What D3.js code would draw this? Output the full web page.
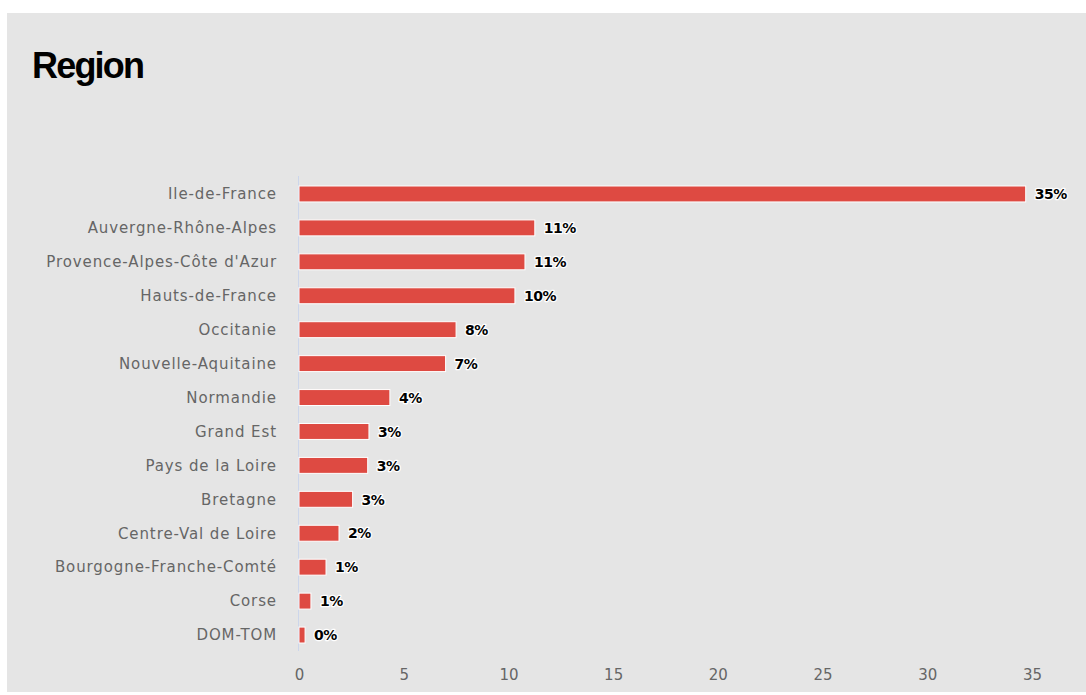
<!DOCTYPE html>
<html>
<head>
<meta charset="utf-8">
<script src="https://cdn.jsdelivr.net/npm/d3@7"></script>
<style>
  html, body { margin: 0; padding: 0; background: #ffffff; }
  svg { display: block; }
</style>
</head>
<body>
<svg id="chart" width="1086" height="695"></svg>
<script>
const categories = [
  "Ile-de-France", "Auvergne-Rhône-Alpes", "Provence-Alpes-Côte d'Azur",
  "Hauts-de-France", "Occitanie", "Nouvelle-Aquitaine", "Normandie",
  "Grand Est", "Pays de la Loire", "Bretagne", "Centre-Val de Loire",
  "Bourgogne-Franche-Comté", "Corse", "DOM-TOM"
];
const values = [34.7, 11.26, 10.79, 10.31, 7.5, 7.0, 4.34, 3.34, 3.28, 2.56, 1.91, 1.29, 0.57, 0.29];
const tickValues = [0, 5, 10, 15, 20, 25, 30, 35];
const chartTitle = "Region";

const svg = d3.select("#chart");
const W = 1086, H = 695;

// background panel
svg.append("rect").attr("x", 7).attr("y", 13).attr("width", W - 7).attr("height", 679).attr("fill", "#e5e5e5");

// title
svg.append("text")
  .attr("x", 32).attr("y", 78)
  .attr("font-family", "'Liberation Sans', Arial, sans-serif")
  .attr("font-weight", "bold")
  .attr("font-size", 36)
  .attr("letter-spacing", -1.8)
  .attr("fill", "#000")
  .text(chartTitle);

const x = d3.scaleLinear().domain([0, 35]).range([299, 1032]);
const y = d3.scaleBand().domain(categories).range([177, 652]).paddingInner(0.53).paddingOuter(0.265);

// axis line (vertical)
svg.append("line")
  .attr("x1", 298.5).attr("x2", 298.5)
  .attr("y1", 176).attr("y2", 651)
  .attr("stroke", "#ccd6eb").attr("stroke-width", 1);

// bars
svg.append("g").selectAll("rect")
  .data(categories)
  .join("rect")
  .attr("x", x(0))
  .attr("y", d => y(d))
  .attr("width", (d, i) => x(values[i]) - x(0))
  .attr("height", y.bandwidth())
  .attr("fill", "#de4a42")
  .attr("stroke", "#ffffff")
  .attr("stroke-width", 1);

// category labels via axis
const yAxis = d3.axisLeft(y).tickSize(0).tickPadding(0);
const gy = svg.append("g").attr("transform", "translate(277,0)").call(yAxis);
gy.select(".domain").remove();
gy.selectAll("text")
  .attr("font-family", "'DejaVu Sans', Verdana, sans-serif")
  .attr("font-size", 15)
  .attr("letter-spacing", 0.9)
  .attr("fill", "#666666")
  .attr("dy", "0.35em");

// x axis tick labels
const xAxis = d3.axisBottom(x).tickValues(tickValues).tickSize(0).tickPadding(0).tickFormat(d3.format("d"));
const gx = svg.append("g").attr("transform", "translate(0,680)").call(xAxis);
gx.select(".domain").remove();
gx.selectAll("text")
  .attr("font-family", "'DejaVu Sans', Verdana, sans-serif")
  .attr("font-size", 15)
  .attr("fill", "#666666")
  .attr("dy", 0);

// data labels
svg.append("g").selectAll("text")
  .data(categories)
  .join("text")
  .attr("x", (d, i) => x(values[i]) + 9)
  .attr("y", d => y(d) + y.bandwidth() / 2)
  .attr("dy", "0.37em")
  .attr("font-family", "'DejaVu Sans', Verdana, sans-serif")
  .attr("font-weight", "bold")
  .attr("font-size", 14)
  .attr("letter-spacing", -0.5)
  .attr("fill", "#000")
  .attr("stroke", "#ffffff")
  .attr("stroke-width", 2.5)
  .attr("stroke-linejoin", "round")
  .attr("paint-order", "stroke")
  .text((d, i) => Math.round(values[i]) + "%");
</script>
</body>
</html>
